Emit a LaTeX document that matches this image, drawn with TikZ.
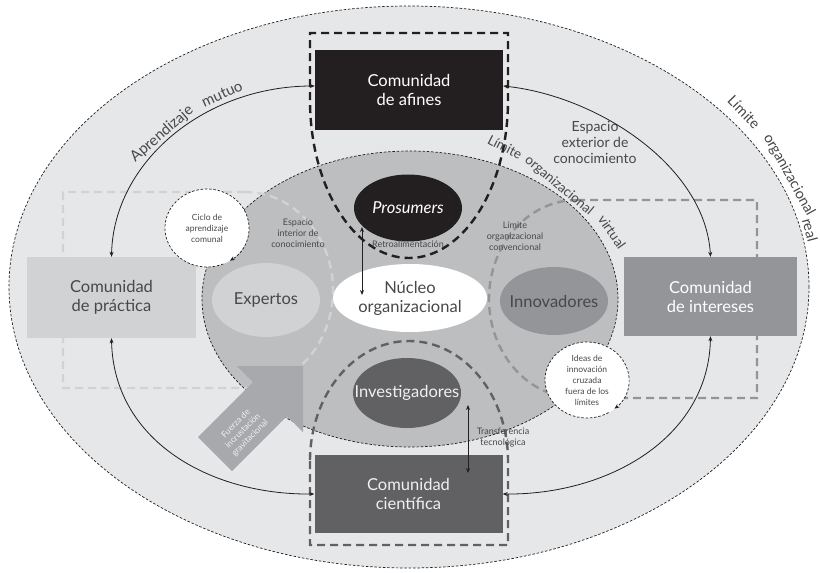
\documentclass[tikz,border=0pt]{standalone}
\usepackage{fontspec}
\setmainfont{Lato}
\usetikzlibrary{arrows.meta,shapes.geometric,calc}
\definecolor{cblack}{HTML}{231F20}
\definecolor{cdark}{HTML}{616163}
\definecolor{cmid}{HTML}{939598}
\definecolor{clight}{HTML}{D1D2D4}
\definecolor{couter}{HTML}{E6E7E8}
\definecolor{cinner}{HTML}{BCBEC0}
\definecolor{carrow}{HTML}{A7A9AC}
\definecolor{ctext}{HTML}{48484A}
\definecolor{cpale}{HTML}{F0F0F0}
\begin{document}
\begin{tikzpicture}[x=1pt,y=1pt,
  conn/.style={line width=0.8pt, draw=cblack, {Stealth[length=5pt,width=4pt]}-{Stealth[length=5pt,width=4pt]}},
  commbox/.style={rectangle, inner sep=0pt, align=center, font=\fontsize{16.5}{19}\selectfont},
  ell/.style={ellipse, align=center, font=\fontsize{16.5}{19}\selectfont, inner sep=-40pt},
  thindash/.style={draw=cblack, line width=0.7pt, dash pattern=on 2.5pt off 1.8pt},
  thickdash/.style={line width=2.4pt, dash pattern=on 8pt off 5pt},
  small/.style={align=center, text=ctext, font=\fontsize{9}{11}\selectfont, inner sep=0pt},
  circ/.style={ellipse, fill=white, align=center, text=ctext, font=\fontsize{8.5}{11}\selectfont, inner sep=-30pt},
  mid/.style={align=center, text=ctext, font=\fontsize{14}{16}\selectfont, inner sep=0pt},
  arclabel/.style={text=ctext, font=\fontsize{15}{15}\selectfont, inner sep=0pt},
  limreal/.style={text=ctext, font=\fontsize{14.5}{14.5}\selectfont, inner sep=0pt},
  limvirt/.style={text=ctext, font=\fontsize{13.5}{13.5}\selectfont, inner sep=0pt},
]
\useasboundingbox (0,0) rectangle (820,-573);
% outer and inner ellipses
\fill[couter] (409,-287) ellipse [x radius=400, y radius=281];
\draw[thindash] (409,-287) ellipse [x radius=400, y radius=281];
\fill[cinner] (410,-299) ellipse [x radius=208, y radius=148];
\draw[thindash] (410,-299) ellipse [x radius=208, y radius=148];
% dashed boundaries
\draw[thickdash, draw=clight] (245,-192) -- (63,-192) -- (63,-388) -- (245,-388)
  arc[start angle=-90, end angle=90, x radius=88, y radius=98];
\draw[thickdash, draw=cmid] (577,-200) -- (757,-200) -- (757,-398) -- (577,-398)
  arc[start angle=270, end angle=90, x radius=88, y radius=99];
\draw[thickdash, draw=cblack] (310,-100) -- (310,-33) -- (508,-33) -- (508,-100)
  arc[start angle=0, end angle=-180, x radius=99, y radius=158];
\draw[thickdash, draw=cdark] (310,-461) -- (310,-545) -- (508,-545) -- (508,-461)
  arc[start angle=0, end angle=180, x radius=99, y radius=120];
% big arrow
\fill[carrow] (303,-366) -- (237,-366) -- (253,-382) -- (198,-437) -- (232,-471) -- (287,-416) -- (303,-432) -- cycle;
\node[rotate=45, align=center, text=cpale, font=\fontsize{8.5}{10}\selectfont, inner sep=0pt] (fuerza) at (243,-431) {Fuerza de\\incrustación\\gravitacional};
% community boxes
\node[commbox, fill=cblack, text=white, minimum width=188pt, minimum height=80pt] (afines) at (409,-90) {Comunidad\\de afines};
\node[commbox, fill=clight, text=ctext, minimum width=169pt, minimum height=81pt] (prac) at (111.5,-297.5) {Comunidad\\de práctica};
\node[commbox, fill=cmid, text=white, minimum width=173pt, minimum height=79pt] (intereses) at (710.5,-296.5) {Comunidad\\de intereses};
\node[commbox, fill=cdark, text=cpale, minimum width=188pt, minimum height=78pt] (cient) at (408.5,-494) {Comunidad\\científica};
% inner ellipses
\node[ell, fill=cblack, text=white, minimum width=108pt, minimum height=67pt, font=\fontsize{16.5}{19}\selectfont\itshape] (pros) at (408,-208) {Prosumers};
\node[ell, fill=white, text=ctext, minimum width=154pt, minimum height=68pt] (nucleo) at (410,-298) {Núcleo\\organizacional};
\node[ell, fill=clight, text=ctext, minimum width=108pt, minimum height=74pt] (expertos) at (266,-300) {Expertos};
\node[ell, fill=cmid, text=ctext, minimum width=108pt, minimum height=68pt] (innov) at (554,-301) {Innovadores};
\node[ell, fill=cdark, text=cpale, minimum width=108pt, minimum height=70pt] (invest) at (407,-393) {Investigadores};
% circles
\node[circ, minimum width=84pt, minimum height=78pt] (ciclo) at (207,-228) {Ciclo de\\aprendizaje\\comunal};
\draw[thindash, -{Stealth[length=5pt,width=4pt]}] ($(ciclo.center)+(293:42 and 39)$) arc[start angle=293, end angle=-57, x radius=42, y radius=39];
\node[circ, minimum width=84pt, minimum height=76pt] (ideas) at (587,-380) {Ideas de\\innovación\\cruzada\\fuera de los\\límites};
\draw[thindash, -{Stealth[length=5pt,width=4pt]}] ($(ideas.center)+(301:42 and 38)$) arc[start angle=301, end angle=-49, x radius=42, y radius=38];
% small labels
\node[small] (espint) at (298,-233) {Espacio\\interior de\\conocimiento};
\node[small] (limconv) at (515,-236) {Límite\\organizacional\\convencional};
\node[small] (retro) at (408,-244) {Retroalimentación};
\node[small] (transf) at (503,-438) {Transferencia\\tecnológica};
\node[mid] (espext) at (595,-142) {Espacio\\exterior de\\conocimiento};
% connectors
\draw[conn] (prac.north) .. controls +(2,95) and +(-110,0) .. ([yshift=4pt]afines.west);
\draw[conn] ([yshift=4pt]afines.east) .. controls +(95,-10) and +(-5,90) .. (intereses.north);
\draw[conn] (prac.south) .. controls +(2,-102) and +(-105,-1) .. (cient.west);
\draw[conn] (intereses.south) .. controls +(-2,-102) and +(105,-1) .. (cient.east);
\draw[conn] ([xshift=-46pt,yshift=-19pt]pros.center) -- ([xshift=-48pt,yshift=3pt]nucleo.center);
\draw[conn] ([xshift=61pt,yshift=-12pt]invest.center) -- ([xshift=59.5pt,yshift=21pt]cient.center);
% curved labels, word by word
\node[arclabel, rotate=41] (apr1) at (162,-134) {Aprendizaje};
\node[arclabel, rotate=24] (apr2) at (222,-94) {mutuo};
\node[limreal, rotate=-46] (real1) at (744,-112) {Límite};
\node[limreal, rotate=-61] (real2) at (789,-175) {organizacional};
\node[limreal, rotate=-75] (real3) at (810,-230) {real};
\node[limvirt, rotate=-27] (virt1) at (505,-147) {Límite};
\node[limvirt, rotate=-40] (virt2) at (559,-186) {organizacional};
\node[limvirt, rotate=-55] (virt3) at (612,-232) {virtual};
\end{tikzpicture}
\end{document}
